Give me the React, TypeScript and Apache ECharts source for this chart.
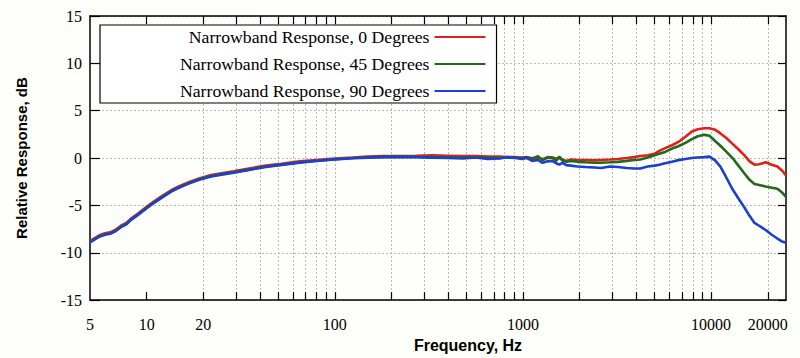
import React, { useEffect, useRef } from "react";
import * as echarts from "echarts";

// Frequency (Hz) sample points
const freqs = [
  5, 5.3, 5.6, 6.0, 6.4, 6.8, 7.3, 7.8, 8.3, 9.0, 10, 11, 12, 13.5, 15, 17, 19, 22, 25, 29, 35, 43, 52, 65, 80,
  100, 125, 150, 180, 220, 270, 330, 400, 480, 560, 650, 750, 820, 900, 980,
  1050, 1120, 1200, 1270, 1350, 1430, 1500, 1560, 1620, 1700, 1800, 1950, 2150, 2400, 2600, 2900, 3200, 3550,
  3900, 4200, 4600, 5000, 5300, 5700, 6200, 6700, 7300, 7900, 8500, 9200, 9800,
  10500, 11200, 12000, 13000, 14000, 15000, 16000, 17000, 18000, 19500, 21000, 22500, 24000, 25000,
];

// Relative response (dB) for each angle
const deg0 = [
  -8.75, -8.45, -8.15, -7.95, -7.85, -7.6, -7.15, -6.85, -6.35, -5.85, -5.15, -4.55, -4.05, -3.4, -2.95, -2.5, -2.15, -1.8, -1.6, -1.4, -1.1, -0.8, -0.6, -0.35, -0.2,
  -0.05, 0.05, 0.15, 0.2, 0.22, 0.25, 0.3, 0.25, 0.2, 0.2, 0.15, 0.15, 0.1, 0.1, 0.05,
  0.05, 0.0, 0.05, -0.1, 0.0, 0.05, -0.05, 0.0, -0.15, -0.3, -0.15, -0.2, -0.2, -0.25, -0.2, -0.15, -0.1, 0.0,
  0.1, 0.22, 0.3, 0.45, 0.75, 1.05, 1.35, 1.7, 2.25, 2.8, 3.05, 3.15, 3.15,
  3.0, 2.6, 2.15, 1.5, 0.9, 0.3, -0.35, -0.7, -0.65, -0.45, -0.7, -0.9, -1.4, -1.85,
];

const deg45 = [
  -8.85, -8.55, -8.25, -8.05, -7.95, -7.7, -7.25, -6.95, -6.45, -5.95, -5.25, -4.65, -4.15, -3.5, -3.05, -2.6, -2.25, -1.9, -1.7, -1.5, -1.2, -0.9, -0.7, -0.45, -0.28,
  -0.12, 0.0, 0.08, 0.12, 0.15, 0.12, 0.1, 0.08, 0.05, 0.05, 0.05, 0.0, 0.05, 0.0, 0.0,
  0.1, -0.1, 0.2, -0.25, 0.1, 0.05, -0.3, 0.15, -0.25, -0.4, -0.3, -0.4, -0.45, -0.5, -0.5, -0.45, -0.4, -0.3,
  -0.2, -0.15, 0.05, 0.3, 0.45, 0.65, 1.0, 1.25, 1.6, 2.0, 2.3, 2.45, 2.35,
  1.8, 1.3, 0.7, 0.0, -0.83, -1.6, -2.3, -2.75, -2.85, -3.0, -3.13, -3.25, -3.7, -4.1,
];

const deg90 = [
  -8.9, -8.6, -8.3, -8.1, -8.0, -7.75, -7.3, -7.0, -6.5, -6.0, -5.3, -4.7, -4.2, -3.55, -3.1, -2.65, -2.3, -1.95, -1.75, -1.55, -1.25, -0.95, -0.72, -0.48, -0.3,
  -0.15, -0.02, 0.05, 0.1, 0.12, 0.1, 0.05, 0.0, -0.05, 0.05, -0.1, -0.05, 0.1, 0.05, -0.1,
  0.0, -0.3, -0.2, -0.5, -0.35, -0.3, -0.55, -0.7, -0.5, -0.75, -0.8, -0.9, -0.95, -1.0, -1.05, -0.9, -0.95, -1.05,
  -1.1, -1.1, -0.9, -0.8, -0.7, -0.55, -0.38, -0.22, -0.1, 0.0, 0.05, 0.1, 0.15,
  -0.25, -0.9, -2.0, -3.3, -4.3, -5.2, -6.1, -6.85, -7.15, -7.6, -8.1, -8.5, -8.85, -8.95,
];

const seriesNames = [
  "Narrowband Response, 0 Degrees",
  "Narrowband Response, 45 Degrees",
  "Narrowband Response, 90 Degrees",
];

// Axis tick / label values
const xTickValues = [
  10, 20, 30, 40, 50, 60, 70, 80, 90,
  100, 200, 300, 400, 500, 600, 700, 800, 900,
  1000, 2000, 3000, 4000, 5000, 6000, 7000, 8000, 9000,
  10000, 20000,
];
const xGridValues = xTickValues.filter((v) => v !== 10);
const xLabelValues = [5, 10, 20, 100, 1000, 10000, 20000];

const SERIF = "'Liberation Serif', 'Times New Roman', serif";
const SANS = "'Liberation Sans', Arial, sans-serif";

export default function App() {
  const ref = useRef<HTMLDivElement>(null);

  useEffect(() => {
    if (!ref.current) return;
    const chart = echarts.init(ref.current, null, { renderer: "svg" });
    const colors = ["#e1201b", "#22691c", "#1b3fcf"];
    const datasets = [deg0, deg45, deg90];

    const gridLine = { show: true, lineStyle: { color: "#b9b9b9", width: 1, type: [2, 2] as any } };
    const logBase = { type: "log" as const, logBase: 10, min: 5, max: 25000 };
    const frameLine = { show: true, onZero: false, lineStyle: { color: "#000", width: 1.5 } };

    chart.setOption({
      animation: false,
      backgroundColor: "#fefefa",
      grid: { left: 90, right: 14, top: 16, bottom: 54 },
      legend: {
        left: 100,
        top: 25,
        orient: "vertical",
        align: "right",
        backgroundColor: "#ffffff",
        borderColor: "#000",
        borderWidth: 1.2,
        borderRadius: 0,
        padding: [3, 10, 3, 80],
        itemWidth: 51,
        itemHeight: 17,
        itemGap: 9,
        itemStyle: { opacity: 0 },
        textStyle: { fontFamily: SERIF, fontSize: 17.7, color: "#000" },
        data: seriesNames,
      },
      xAxis: [
        {
          ...logBase,
          position: "bottom",
          name: "Frequency, Hz",
          nameLocation: "middle",
          nameGap: 30,
          nameTextStyle: { fontFamily: SANS, fontWeight: "bold", fontSize: 16, color: "#000", padding: [0, 0, 0, 60] },
          axisLine: frameLine,
          axisTick: { show: true, inside: true, length: 8, customValues: xTickValues, lineStyle: { color: "#000", width: 1.2 } },
          axisLabel: {
            customValues: xLabelValues,
            formatter: (v: number) => String(Math.round(v)),
            fontFamily: SERIF,
            fontSize: 16,
            color: "#000",
            margin: 16,
          },
          splitLine: { show: false },
          minorTick: { show: false },
        },
        {
          ...logBase,
          position: "top",
          axisLine: frameLine,
          axisTick: { show: true, inside: true, length: 8, customValues: xTickValues, lineStyle: { color: "#000", width: 1.2 } },
          axisLabel: { show: false },
          splitLine: { show: false },
        },
        {
          ...logBase,
          position: "bottom",
          axisLine: { show: false, onZero: false },
          axisTick: { show: false, customValues: xGridValues },
          axisLabel: { show: false },
          splitLine: gridLine,
        },
      ],
      yAxis: [
        {
          type: "value",
          min: -15,
          max: 15,
          interval: 5,
          position: "left",
          name: "Relative Response, dB",
          nameLocation: "middle",
          nameGap: 61,
          nameTextStyle: { fontFamily: SANS, fontWeight: "bold", fontSize: 15, color: "#000" },
          axisLine: frameLine,
          axisTick: { show: true, inside: true, length: 10, lineStyle: { color: "#000", width: 1.2 } },
          axisLabel: { fontFamily: SERIF, fontSize: 16, color: "#000", margin: 8 },
          splitLine: gridLine,
        },
        {
          type: "value",
          min: -15,
          max: 15,
          interval: 5,
          position: "right",
          axisLine: frameLine,
          axisTick: { show: true, inside: true, length: 8, lineStyle: { color: "#000", width: 1.2 } },
          axisLabel: { show: false },
          splitLine: { show: false },
        },
      ],
      series: seriesNames.map((name, k) => ({
        name,
        type: "line",
        xAxisIndex: 0,
        yAxisIndex: 0,
        showSymbol: false,
        symbol: "none",
        color: colors[k],
        lineStyle: { color: colors[k], width: 2.6 },
        data: freqs.map((f, i) => [f, datasets[k][i]]),
      })),
    });

    return () => chart.dispose();
  }, []);

  return (
    <div
      ref={ref}
      style={{ position: "fixed", left: 0, top: 0, width: 800, height: 358 }}
    />
  );
}
